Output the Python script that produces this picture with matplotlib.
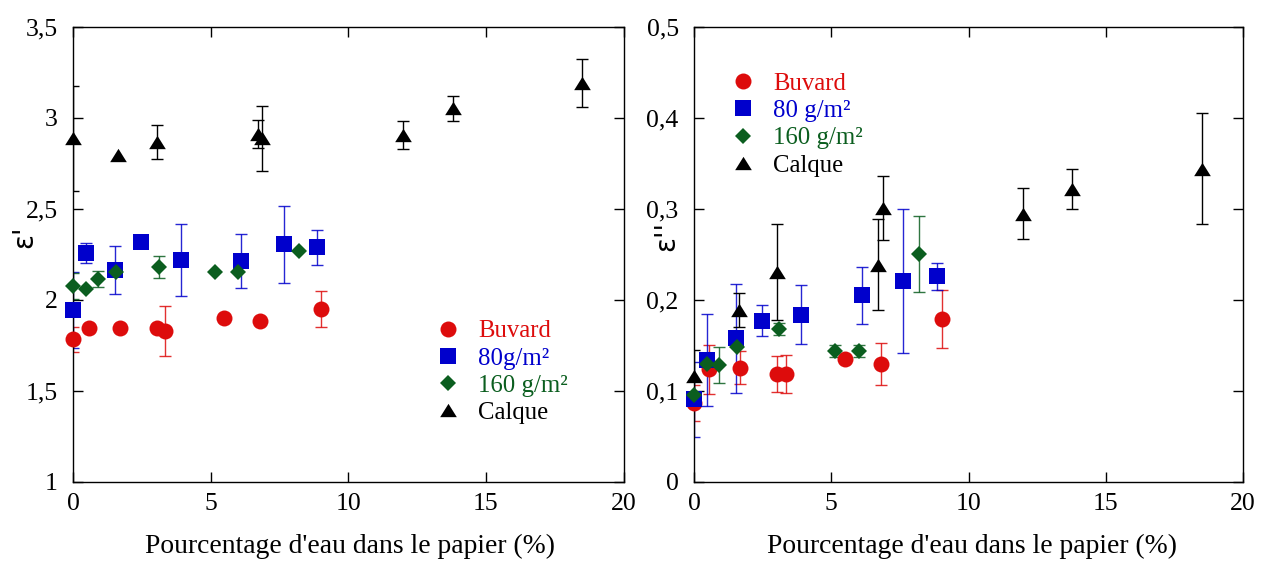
import matplotlib
matplotlib.use("Agg")
import matplotlib.pyplot as plt
from matplotlib.lines import Line2D
import numpy as np

plt.rcParams['font.family'] = ['Liberation Serif', 'DejaVu Serif']

# ---------------- data: left panel (epsilon') ----------------
L_buvard_x = [0.0, 0.58, 1.71, 3.04, 3.35, 5.5, 6.79, 9.0]
L_buvard_y = [1.784, 1.848, 1.846, 1.848, 1.831, 1.899, 1.886, 1.951]
L_buvard_e = [0.07, 0.0, 0.0, 0.0, 0.138, 0.0, 0.0, 0.10]

L_80_x = [0.0, 0.47, 1.53, 2.48, 3.92, 6.11, 7.65, 8.87]
L_80_y = [1.945, 2.257, 2.165, 2.317, 2.22, 2.214, 2.306, 2.29]
L_80_e = [0.21, 0.055, 0.13, 0.0, 0.2, 0.147, 0.21, 0.097]

L_160_x = [0.0, 0.47, 0.9, 1.55, 3.13, 5.15, 6.0, 8.22]
L_160_y = [2.077, 2.062, 2.115, 2.152, 2.181, 2.154, 2.154, 2.269]
L_160_e = [0.07, 0.0, 0.043, 0.0, 0.062, 0.0, 0.0, 0.0]

L_calque_x = [0.0, 1.65, 3.04, 6.72, 6.88, 11.99, 13.79, 18.5]
L_calque_y = [2.888, 2.797, 2.870, 2.912, 2.888, 2.907, 3.053, 3.191]
L_calque_e = [0.289, 0.0, 0.093, 0.075, 0.179, 0.077, 0.07, 0.133]

# ---------------- data: right panel (epsilon'') ----------------
R_buvard_x = [0.0, 0.56, 1.68, 3.01, 3.35, 5.5, 6.8, 9.02]
R_buvard_y = [0.0865, 0.124, 0.1256, 0.1184, 0.1187, 0.135, 0.130, 0.179]
R_buvard_e = [0.02, 0.027, 0.018, 0.02, 0.021, 0.0, 0.023, 0.032]

R_80_x = [0.0, 0.49, 1.52, 2.47, 3.89, 6.11, 7.63, 8.86]
R_80_y = [0.0909, 0.134, 0.158, 0.177, 0.184, 0.205, 0.221, 0.226]
R_80_e = [0.041, 0.051, 0.06, 0.017, 0.032, 0.031, 0.079, 0.015]

R_160_x = [0.0, 0.46, 0.91, 1.58, 3.1, 5.14, 6.01, 8.21]
R_160_y = [0.0956, 0.130, 0.1286, 0.148, 0.168, 0.144, 0.144, 0.2505]
R_160_e = [0.0, 0.0, 0.02, 0.0, 0.007, 0.007, 0.007, 0.042]

R_calque_x = [0.0, 1.65, 3.04, 6.71, 6.89, 11.97, 13.78, 18.5]
R_calque_y = [0.1165, 0.189, 0.231, 0.2385, 0.301, 0.295, 0.322, 0.344]
R_calque_e = [0.029, 0.019, 0.053, 0.05, 0.035, 0.028, 0.022, 0.061]

# ---------------- labels / ticks ----------------
x_ticks = [0, 5, 10, 15, 20]
x_ticklabels = ['0', '5', '10', '15', '20']
L_yticks = [1, 1.5, 2, 2.5, 3, 3.5]
L_yticklabels = ['1', '1,5', '2', '2,5', '3', '3,5']
R_yticks = [0, 0.1, 0.2, 0.3, 0.4, 0.5]
R_yticklabels = ['0', '0,1', '0,2', '0,3', '0,4', '0,5']
xlabel = "Pourcentage d'eau dans le papier (%)"
L_ylabel = "ε'"
R_ylabel = "ε''"
L_legend = ['Buvard', '80g/m²', '160 g/m²', 'Calque']
R_legend = ['Buvard', '80 g/m²', '160 g/m²', 'Calque']

RED = '#dd0c0c'
BLUE = '#0000cc'
GREEN = '#0b5e1f'
BLACK = '#000000'
colors = [RED, BLUE, GREEN, BLACK]
tri = [(-1, -0.8), (1, -0.8), (0, 0.8)]
markers = ['o', 's', 'D', tri]
msizes = [11.5, 12.0, 8.2, 12.0]

fig = plt.figure(figsize=(12.63, 5.61), dpi=100)
axL = fig.add_axes([73 / 1263, 1 - 482 / 561, 550.5 / 1263, 455 / 561])
axR = fig.add_axes([694 / 1263, 1 - 482 / 561, 549 / 1263, 455 / 561])

FS_TICK = 18.5
FS_LABEL = 19.9
FS_LEG = 17.8


def draw(ax, series):
    for (xs, ys, es), c, m, ms in zip(series, colors, markers, msizes):
        xs, ys, es = np.asarray(xs), np.asarray(ys), np.asarray(es)
        k = es > 0
        ax.errorbar(xs[k], ys[k], yerr=es[k], fmt='none', ecolor=c, elinewidth=1.0,
                    capsize=4.5, capthick=1.0, alpha=0.85 if c != BLACK else 1.0,
                    clip_on=True, zorder=2)
        ax.plot(xs, ys, linestyle='none', marker=m, markersize=ms, color=c,
                markeredgewidth=0, clip_on=False, zorder=3)


def style(ax, yt, ytl, ylim):
    ax.set_xlim(0, 20)
    ax.set_ylim(*ylim)
    ax.set_xticks(x_ticks)
    ax.set_xticklabels(x_ticklabels)
    ax.set_yticks(yt)
    ax.set_yticklabels(ytl)
    ax.tick_params(direction='in', length=7.5, width=1.0, top=True, right=True,
                   labelsize=FS_TICK)
    ax.tick_params(axis='x', pad=8)
    ax.tick_params(axis='y', pad=11)
    for s in ax.spines.values():
        s.set_linewidth(1.0)
    ax.set_xlabel(xlabel, fontsize=FS_LABEL)


draw(axL, [(L_buvard_x, L_buvard_y, L_buvard_e), (L_80_x, L_80_y, L_80_e),
           (L_160_x, L_160_y, L_160_e), (L_calque_x, L_calque_y, L_calque_e)])
draw(axR, [(R_buvard_x, R_buvard_y, R_buvard_e), (R_80_x, R_80_y, R_80_e),
           (R_160_x, R_160_y, R_160_e), (R_calque_x, R_calque_y, R_calque_e)])

style(axL, L_yticks, L_yticklabels, (1, 3.5))
style(axR, R_yticks, R_yticklabels, (0, 0.5))

axL.xaxis.set_label_coords(0.503, -0.115)
axR.xaxis.set_label_coords(0.506, -0.115)
axL.set_ylabel(L_ylabel, fontsize=20, family='DejaVu Sans')
axR.set_ylabel(R_ylabel, fontsize=20, family='DejaVu Sans')
axL.yaxis.set_label_coords(-0.064, 0.54)
axR.yaxis.set_label_coords(-0.025, 0.54)


def legend(ax, labels, anchor):
    handles = [Line2D([], [], linestyle='none', marker=m, markersize=ms, color=c,
                      markeredgewidth=0) for c, m, ms in zip(colors, markers, msizes)]
    leg = ax.legend(handles, labels, loc='upper left', bbox_to_anchor=anchor,
                    frameon=False, fontsize=FS_LEG, handlelength=0.9,
                    handletextpad=0.78, labelspacing=0.2, borderpad=0,
                    borderaxespad=0, labelcolor=colors)
    return leg


legend(axL, L_legend, (0.661, 0.356))
legend(axR, R_legend, (0.069, 0.9))

fig.savefig('out.png', dpi=100)
